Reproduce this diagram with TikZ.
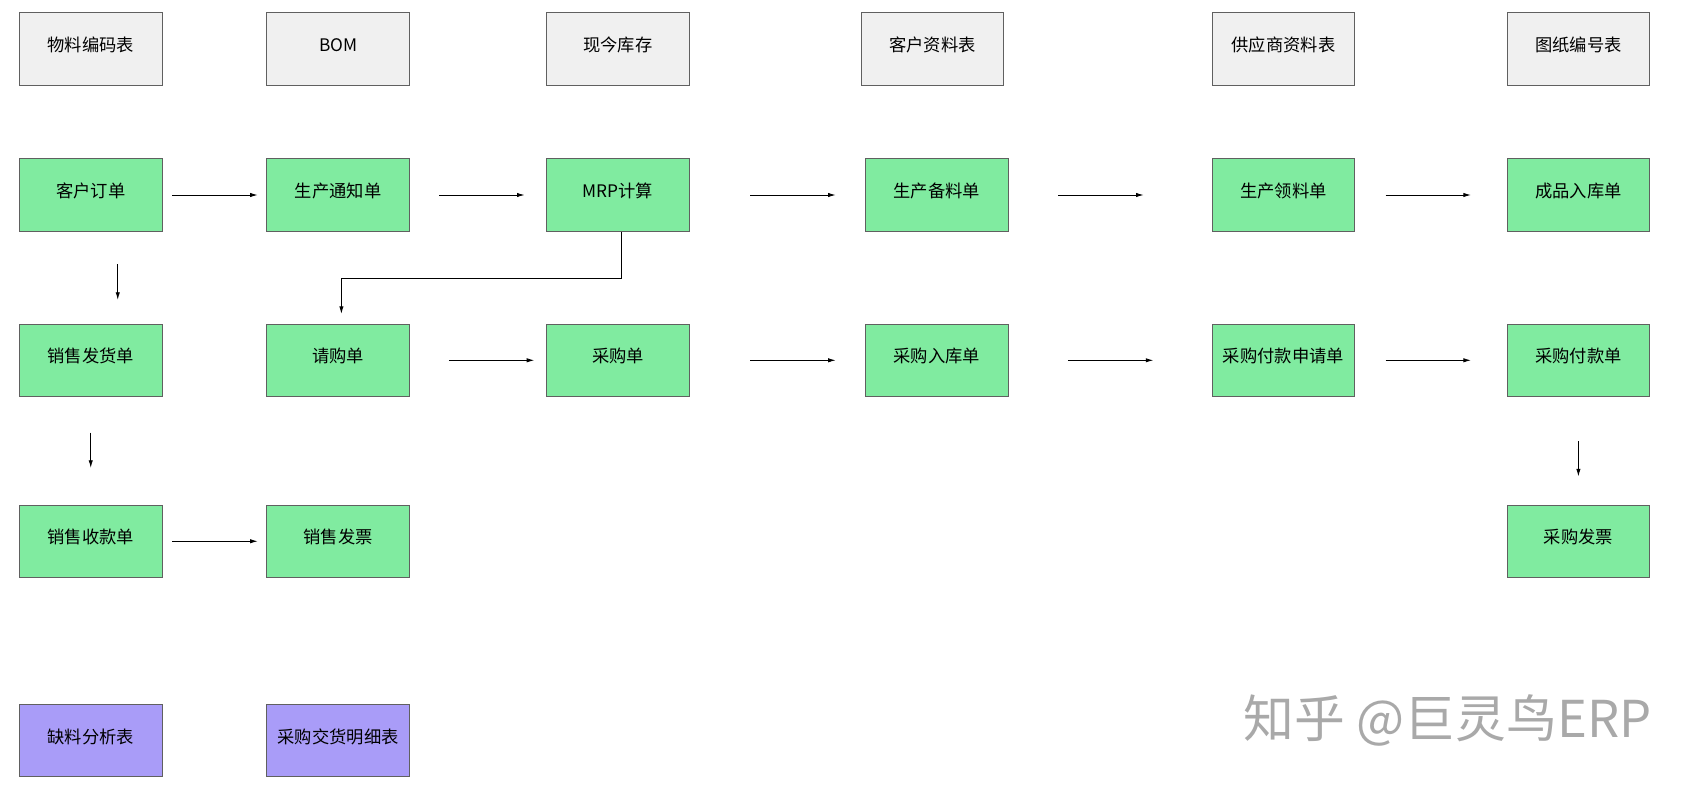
\documentclass[tikz,border=0pt]{standalone}
\usepackage{fontspec}
\setmainfont{Noto Sans CJK SC}
\newfontfamily\cjk{Noto Sans CJK SC}
\usetikzlibrary{arrows.meta}
\definecolor{grayfill}{HTML}{F0F0F0}
\definecolor{greenfill}{HTML}{80EBA0}
\definecolor{purplefill}{HTML}{A99CF8}
\definecolor{boxline}{HTML}{606060}
\definecolor{wm}{HTML}{A9A9A9}
\tikzset{
  box/.style={draw=boxline, line width=0.9pt, minimum width=132pt, minimum height=67pt, inner sep=0pt, text height=12pt, text depth=7.5pt, font=\cjk\fontsize{16}{18}\selectfont, text=black},
  tbl/.style={box, fill=grayfill},
  doc/.style={box, fill=greenfill},
  rpt/.style={box, fill=purplefill},
  arr/.style={draw=black, line width=0.8pt, -{Latex[length=7pt,width=4pt]}}
}
\begin{document}
\begin{tikzpicture}[x=1pt,y=-1pt]
\useasboundingbox (0,0) rectangle (1568,730);
% row 1: tables
\node[tbl] (wuliao) at (84,45.5) {物料编码表};
\node[tbl] (bom) at (313,45.5) {BOM};
\node[tbl] (kucun) at (572,45.5) {现今库存};
\node[tbl] (kehuzl) at (863,45.5) {客户资料表};
\node[tbl] (gysz) at (1188,45.5) {供应商资料表};
\node[tbl] (tuzhi) at (1461,45.5) {图纸编号表};
% row 2
\node[doc] (dingdan) at (84,180.5) {客户订单};
\node[doc] (tongzhi) at (313,180.5) {生产通知单};
\node[doc] (mrp) at (572,180.5) {MRP计算};
\node[doc] (beiliao) at (867,180.5) {生产备料单};
\node[doc] (lingliao) at (1188,180.5) {生产领料单};
\node[doc] (chengpin) at (1461,180.5) {成品入库单};
% row 3
\node[doc] (fahuo) at (84,333.5) {销售发货单};
\node[doc] (qinggou) at (313,333.5) {请购单};
\node[doc] (caigou) at (572,333.5) {采购单};
\node[doc] (ruku) at (867,333.5) {采购入库单};
\node[doc] (fksq) at (1188,333.5) {采购付款申请单};
\node[doc] (fukuan) at (1461,333.5) {采购付款单};
% row 4
\node[doc] (shoukuan) at (84,501) {销售收款单};
\node[doc] (xsfp) at (313,501) {销售发票};
\node[doc] (cgfp) at (1461,501) {采购发票};
% row 5
\node[rpt] (queliao) at (84,685.5) {缺料分析表};
\node[rpt] (jiaohuo) at (313,685.5) {采购交货明细表};
% watermark
\node[text=wm, font=\cjk\fontsize{47}{50}\selectfont, inner sep=0pt] (watermark) at (1340,667) {知乎 @巨灵鸟ERP};
% row 2 arrows
\draw[arr, shorten <=9pt, shorten >=8pt] (dingdan) -- (tongzhi);
\draw[arr, shorten <=27pt, shorten >=20pt] (tongzhi) -- (mrp);
\draw[arr, shorten <=56pt, shorten >=27pt] (mrp) -- (beiliao);
\draw[arr, shorten <=46pt, shorten >=63pt] (beiliao) -- (lingliao);
\draw[arr, shorten <=28pt, shorten >=33pt] (lingliao) -- (chengpin);
% row 3 arrows
\draw[arr, shorten <=36pt, shorten >=11pt] (qinggou) -- (caigou);
\draw[arr, shorten <=56pt, shorten >=27pt] (caigou) -- (ruku);
\draw[arr, shorten <=55pt, shorten >=54pt] (ruku) -- (fksq);
\draw[arr, shorten <=28pt, shorten >=33pt] (fksq) -- (fukuan);
% row 4 arrow
\draw[arr, shorten <=9pt, shorten >=8pt] (shoukuan) -- (xsfp);
% vertical arrows
\draw[arr, shorten <=30pt, shorten >=22pt] ([xshift=25pt]dingdan.south) -- ([xshift=25pt]fahuo.north);
\draw[arr, shorten <=33pt, shorten >=34pt] (fahuo.south) -- (shoukuan.north);
\draw[arr, shorten <=41pt, shorten >=26pt] (fukuan.south) -- (cgfp.north);
% MRP elbow
\draw[arr, shorten >=9pt] ([xshift=3pt]mrp.south) -- ++(0,43) -| ([xshift=3pt]qinggou.north);
\end{tikzpicture}
\end{document}
